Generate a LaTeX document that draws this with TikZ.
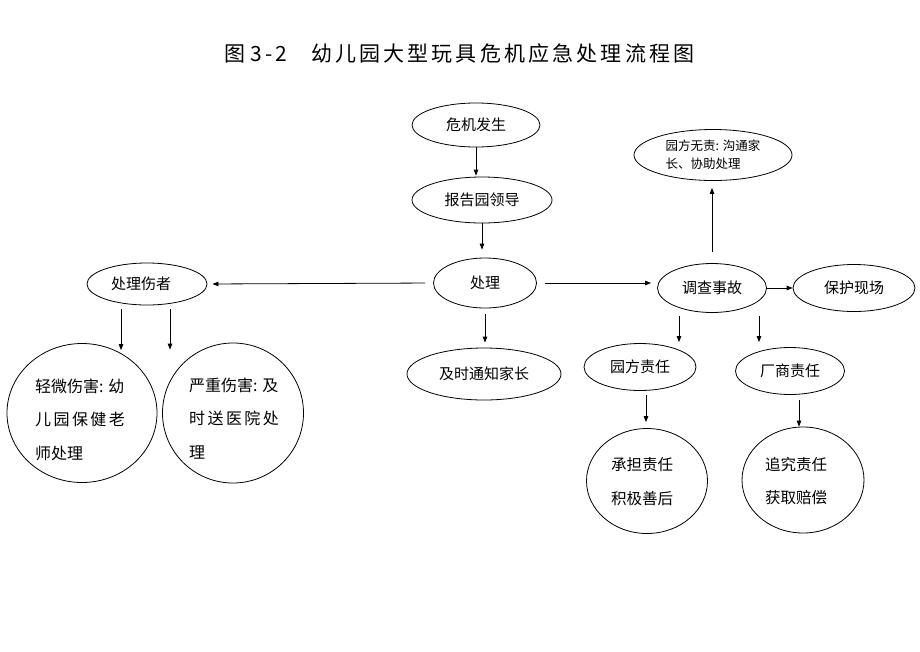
\documentclass[tikz,border=0pt]{standalone}
\usepackage{fontspec}
\setmainfont{Noto Sans CJK SC}
\usetikzlibrary{shapes.geometric,arrows.meta,calc}
\begin{document}
\begin{tikzpicture}[x=1pt,y=-1pt,
  box/.style={draw,ellipse,line width=0.8pt,inner sep=0pt,font=\fontsize{15}{18}\selectfont},
  arr/.style={-{Triangle[length=6pt,width=4.5pt]},line width=0.8pt},
  ctext/.style={align=left,inner sep=0pt,font=\fontsize{16}{33.5}\selectfont}]
\path[fill=white] (0,0) rectangle (920,651);

% title
\node[anchor=west,inner sep=0pt,font=\fontsize{21}{24}\selectfont] (title) at (224,54)
  {\addfontfeatures{LetterSpace=15}图\hspace{5pt}3-2\hspace{24pt}幼儿园大型玩具危机应急处理流程图};

% central column
\node[box,minimum width=128pt,minimum height=44pt] (crisis) at (476,125) {危机发生};
\node[box,minimum width=140pt,minimum height=46pt] (report) at (482,200) {报告园领导};
\node[box,minimum width=103pt,minimum height=50pt] (handle) at (485,283) {处理};
\node[box,minimum width=154pt,minimum height=52pt] (notify) at (484,374) {及时通知家长};

% left branch
\node[box,minimum width=120pt,minimum height=42pt] (hurt) at (147,284) {处理伤者\hspace*{12pt}};
\node[box,minimum width=150pt,minimum height=139pt] (minor) at (82,413) {};
\node[ctext,anchor=west] (minorT) at (35,419.5)
  {轻微伤害: 幼\\{\addfontfeatures{LetterSpace=15}儿园保健老}\\师处理};
\node[box,minimum width=141pt,minimum height=140pt] (severe) at (233,413) {};
\node[ctext,anchor=west] (severeT) at (189,418.5)
  {严重伤害: 及\\{\addfontfeatures{LetterSpace=15}时送医院处}\\理};

% right branch
\node[box,minimum width=109pt,minimum height=49pt] (invest) at (712,288) {调查事故};
\node[box,minimum width=122pt,minimum height=47pt] (protect) at (854,288) {保护现场};
\node[box,minimum width=158pt,minimum height=51pt,align=left,font=\fontsize{12.5}{18}\selectfont] (nofault) at (713,155)
  {园方无责: 沟通家\\长、协助处理};
\node[box,minimum width=112pt,minimum height=47pt] (kresp) at (640,367) {园方责任};
\node[box,minimum width=109pt,minimum height=47pt] (mresp) at (790,371) {厂商责任};
\node[box,minimum width=121pt,minimum height=105pt] (bear) at (647,481) {};
\node[ctext,align=center,font=\fontsize{15.5}{34}\selectfont] (bearT) at (642,482) {承担责任\\积极善后};
\node[box,minimum width=122pt,minimum height=106pt] (pursue) at (803,480) {};
\node[ctext,align=center,font=\fontsize{15.5}{33}\selectfont] (pursueT) at (796,481.5) {追究责任\\获取赔偿};

% connectors
\draw[arr,shorten >=1pt] (crisis.south) -- (crisis.south |- report.north);
\draw[arr,shorten >=8pt] (report.south) -- (report.south |- handle.north);
\draw[arr,shorten <=6pt,shorten >=5pt] (handle.south) -- (handle.south |- notify.north);
\draw[arr,shorten <=8pt,shorten >=5pt] (handle.west) -- (hurt.east);
\draw[arr,shorten <=8pt,shorten >=6pt] (handle.east) -- (handle.east -| invest.west);
\draw[arr] (invest.east) -- (invest.east -| protect.west);
\draw[arr,shorten <=11pt,shorten >=7pt] (invest.north) -- (invest.north |- nofault.south);
\draw[arr] ($(invest.south)+(-33,3)$) -- ($(kresp.north)+(39,-1)$);
\draw[arr] ($(invest.south)+(47,3)$) -- ($(mresp.north)+(-31,-5)$);
\draw[arr] ($(hurt.south)+(-26,4)$) -- ($(minor.north)+(39,7)$);
\draw[arr] ($(hurt.south)+(23,4)$) -- ($(severe.north)+(-63,7)$);
\draw[arr] ($(kresp.south)+(6,4.5)$) -- ($(bear.north)+(-1,-6)$);
\draw[arr] ($(mresp.south)+(9,5.5)$) -- ($(pursue.north)+(-4,0)$);
\end{tikzpicture}
\end{document}
